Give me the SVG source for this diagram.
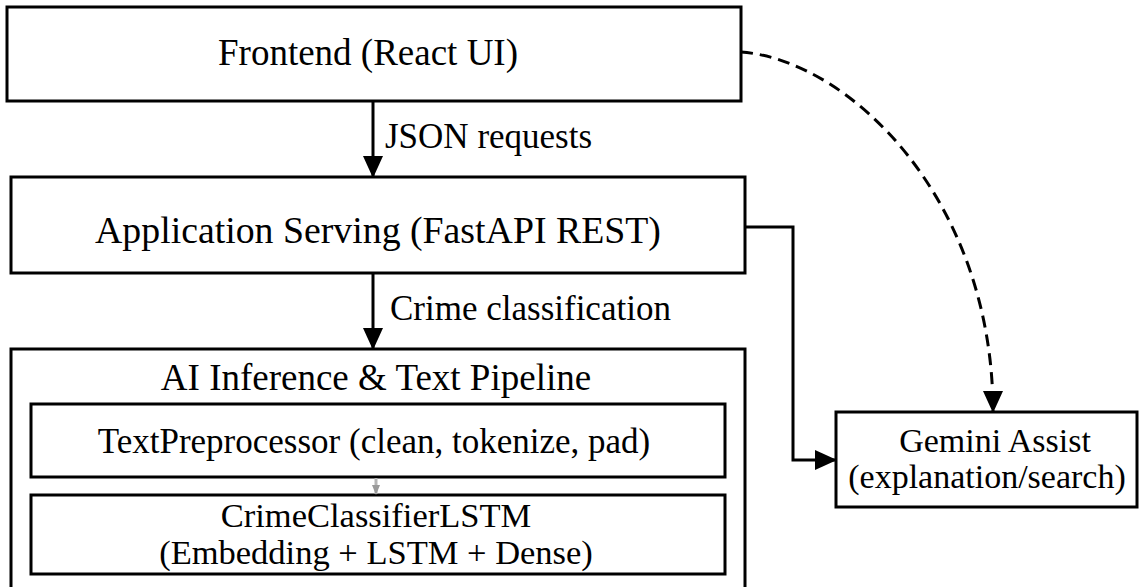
<svg xmlns="http://www.w3.org/2000/svg" width="1142" height="587" viewBox="0 0 1142 587">
  <style>
    .box { fill: #ffffff; stroke: #000000; stroke-width: 3; }
    text { font-family: 'Liberation Serif', serif; fill: #000000; }
    .lbl { text-anchor: middle; }
    .elbl { font-size: 35px; }
    .edge { fill: none; stroke: #000000; stroke-width: 3; }
    .dash { stroke-dasharray: 12 7; }
  </style>
  <defs>
    <marker id="arrow" markerUnits="userSpaceOnUse" markerWidth="22" markerHeight="22" viewBox="0 0 22 22" refX="21" refY="11" orient="auto">
      <path d="M0,1 L22,11 L0,21 Z" fill="#000000"/>
    </marker>
    <marker id="arrowFaint" markerUnits="userSpaceOnUse" markerWidth="10" markerHeight="10" viewBox="0 0 10 10" refX="9" refY="5" orient="auto">
      <path d="M0,1 L10,5 L0,9 Z" fill="#9a9a9a"/>
    </marker>
  </defs>

  <rect width="1142" height="587" fill="#ffffff"/>

  <!-- Frontend -->
  <g id="frontend">
    <rect class="box" x="7" y="7" width="734" height="94"/>
    <text class="lbl" x="368" y="65" font-size="37">Frontend (React UI)</text>
  </g>

  <!-- API service -->
  <g id="app-serving">
    <rect class="box" x="11" y="177" width="734" height="96"/>
    <text class="lbl" x="378" y="243" font-size="37.8">Application Serving (FastAPI REST)</text>
  </g>

  <!-- Inference pipeline container -->
  <g id="ai-pipeline">
    <rect class="box" x="11" y="349" width="734" height="260"/>
    <text class="lbl" x="376" y="390" font-size="37">AI Inference &amp; Text Pipeline</text>
  </g>

  <g id="text-preprocessor">
    <rect class="box" x="31" y="404" width="694" height="73"/>
    <text class="lbl" x="374" y="453" font-size="35">TextPreprocessor (clean, tokenize, pad)</text>
  </g>

  <g id="lstm-classifier">
    <rect class="box" x="31" y="495" width="694" height="79"/>
    <text class="lbl" x="376" y="527" font-size="34.5">CrimeClassifierLSTM</text>
    <text class="lbl" x="376" y="564" font-size="34.5">(Embedding + LSTM + Dense)</text>
  </g>

  <!-- LLM helper -->
  <g id="gemini">
    <rect class="box" x="836" y="412" width="301" height="95"/>
    <text class="lbl" x="995" y="452" font-size="34">Gemini Assist</text>
    <text class="lbl" x="987" y="488" font-size="34">(explanation/search)</text>
  </g>

  <!-- Connectors -->
  <g id="connectors">
    <path class="edge" d="M373,101 V177" marker-end="url(#arrow)"/>
    <text class="elbl" x="385" y="148">JSON requests</text>

    <path class="edge" d="M373,273 V349" marker-end="url(#arrow)"/>
    <text class="elbl" x="390" y="320">Crime classification</text>

    <path d="M376,478 V494" stroke="#b5b5b5" stroke-width="3" fill="none" marker-end="url(#arrowFaint)"/>

    <path class="edge" d="M745,227 H793 V460 H836" marker-end="url(#arrow)"/>

    <path class="edge dash" d="M741,52 C850,60 993,200 993,412" marker-end="url(#arrow)"/>
  </g>
</svg>
